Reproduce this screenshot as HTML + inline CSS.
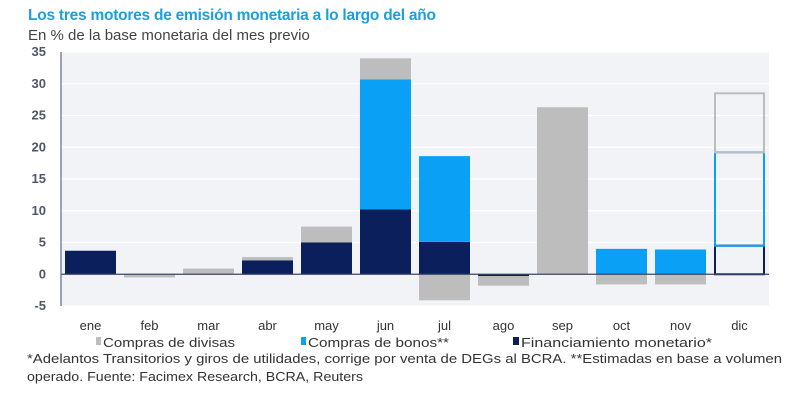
<!DOCTYPE html>
<html><head><meta charset="utf-8"><style>
body{margin:0;background:#fff;width:800px;height:404px;overflow:hidden;font-family:"Liberation Sans",sans-serif}
svg{display:block}
</style></head><body>
<svg id="chart" width="800" height="404">
<text x="28" y="20" font-size="15.5" font-weight="bold" fill="#1a9fe0" textLength="408">Los tres motores de emisión monetaria a lo largo del año</text>
<text x="28" y="40" font-size="15" fill="#444">En % de la base monetaria del mes previo</text>
<rect x="61" y="52" width="708" height="254" fill="#f2f3f7"/>
<g id="grid"></g><g id="bars"></g><g id="axes"></g>
<g font-size="13" fill="#333">
<g><rect x="96" y="337" width="5" height="8" fill="#bdbdbd"/><text x="103" y="347" fill="#333" textLength="132" lengthAdjust="spacingAndGlyphs">Compras de divisas</text></g>
<g><rect x="301" y="337" width="5" height="8" fill="#0aa0f5"/><text x="308" y="347" fill="#333" textLength="141" lengthAdjust="spacingAndGlyphs">Compras de bonos**</text></g>
<g><rect x="513" y="337" width="6" height="8" fill="#0b1f5c"/><text x="521" y="347" fill="#333" textLength="191" lengthAdjust="spacingAndGlyphs">Financiamiento monetario*</text></g>
</g>
<text x="27" y="363" font-size="13" fill="#333" textLength="755" lengthAdjust="spacingAndGlyphs">*Adelantos Transitorios y giros de utilidades, corrige por venta de DEGs al BCRA. **Estimadas en base a volumen</text>
<text x="27" y="381" font-size="13" fill="#333" textLength="336" lengthAdjust="spacingAndGlyphs">operado. Fuente: Facimex Research, BCRA, Reuters</text>
</svg>
<script>
const months=["ene","feb","mar","abr","may","jun","jul","ago","sep","oct","nov","dic"];
const financiamiento=[3.7,0,0,2.2,5.0,10.2,5.1,-0.3,0,0,0,4.5];
const bonos=[0,0,0,0,0,20.5,13.5,0,0,4.0,3.9,14.7];
const divisas=[0,-0.5,0.9,0.5,2.5,3.3,-4.1,-1.5,26.3,-1.6,-1.6,9.3];
const yTicks=[-5,0,5,10,15,20,25,30,35];
const NS="http://www.w3.org/2000/svg";
const x0=61,slot=59,bw=51,yTop=52,yBot=306,vmin=-5,vmax=35;
const y=v=>yTop+(vmax-v)/(vmax-vmin)*(yBot-yTop);
const xc=i=>x0+slot*i+slot/2;
function mk(tag,attrs,parent){const e=document.createElementNS(NS,tag);for(const k in attrs)e.setAttribute(k,attrs[k]);parent.appendChild(e);return e;}
const grid=document.getElementById('grid'),bars=document.getElementById('bars'),axes=document.getElementById('axes');
yTicks.forEach(t=>{
  const l=mk('line',{x1:x0,x2:769,y1:y(t),y2:y(t),stroke:'#fff','stroke-width':1.2},grid);
  
  
  const tx=mk('text',{x:46,y:y(t)+4,'font-size':13,'font-weight':'bold',fill:'#4f5670','text-anchor':'end'},axes);
  tx.textContent=t;
  
  
});
const colors={fin:'#0b1f5c',bon:'#0aa0f5',div:'#bdbdbd'};
months.forEach((m,i)=>{
  const outline=i===11;
  let pos=0,neg=0;
  [['fin',financiamiento[i]],['bon',bonos[i]],['div',divisas[i]]].forEach(([k,v])=>{
    if(!v)return;
    let a,b;
    if(v>0){a=pos;b=pos+v;pos=b;}else{a=neg;b=neg+v;neg=b;}
    const top=y(Math.max(a,b)),h=Math.abs(y(a)-y(b));
    const attrs={x:xc(i)-bw/2,y:top,width:bw,height:h};
    if(outline){attrs.fill='none';attrs.stroke=colors[k];attrs['stroke-width']=2;attrs.x+=1;attrs.width-=2;}
    else attrs.fill=colors[k];
    const r=mk('rect',attrs,bars);
    
    
  });
  const t=mk('text',{x:xc(i),y:330,'font-size':13,fill:'#333','text-anchor':'middle'},axes);
  t.textContent=m;
  
  
});
const za=mk('line',{x1:x0,x2:769,y1:y(0),y2:y(0),stroke:'#3b4463','stroke-width':1.3},axes);


const ya=mk('line',{x1:x0,x2:x0,y1:yTop,y2:yBot,stroke:'#6b7290','stroke-width':1.3},axes);


</script>
</body></html>
